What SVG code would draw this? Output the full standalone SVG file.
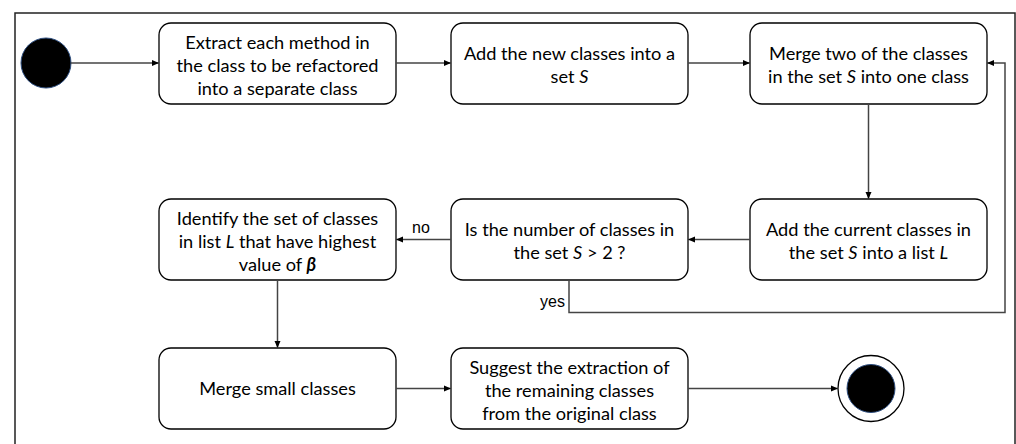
<svg xmlns="http://www.w3.org/2000/svg" width="1016" height="444" viewBox="0 0 1016 444">
<style>
.box{fill:#fff;stroke:#000;stroke-width:1.3}
.t{font-family:Lato,"Open Sans",sans-serif;font-size:18.2px;fill:#000;text-anchor:middle}
.lbl{font-family:"Liberation Sans",Arial,sans-serif;font-size:16px;fill:#000}
.c{fill:none;stroke:#444;stroke-width:1.5}
</style>
<defs>
<marker id="ah" markerWidth="8" markerHeight="8" refX="7" refY="4" orient="auto" markerUnits="userSpaceOnUse">
<path d="M0,1 L7,4 L0,7 Z" fill="#000"/>
</marker>
</defs>
<rect x="15" y="13" width="1000" height="520" fill="#fff" stroke="#222" stroke-width="1.5"/>
<g id="start"><circle cx="46" cy="63" r="25" fill="#000" stroke="#2f4f80" stroke-width="1"/></g>
<g id="n1"><rect class="box" x="159" y="23" width="237" height="81" rx="12"/>
<text class="t" x="277.5" y="49">Extract each method in</text>
<text class="t" x="277.5" y="72">the class to be refactored</text>
<text class="t" x="277.5" y="95">into a separate class</text></g>
<g id="n2"><rect class="box" x="451" y="23" width="237" height="81" rx="12"/>
<text class="t" x="569.5" y="60">Add the new classes into a</text>
<text class="t" x="569.5" y="83">set <tspan font-style="italic">S</tspan></text></g>
<g id="n3"><rect class="box" x="750" y="23" width="237" height="81" rx="12"/>
<text class="t" x="868.5" y="60">Merge two of the classes</text>
<text class="t" x="868.5" y="83">in the set <tspan font-style="italic">S</tspan> into one class</text></g>
<g id="n4"><rect class="box" x="750" y="199" width="237" height="81" rx="12"/>
<text class="t" x="868.5" y="236">Add the current classes in</text>
<text class="t" x="868.5" y="259">the set <tspan font-style="italic">S</tspan> into a list <tspan font-style="italic">L</tspan></text></g>
<g id="n5"><rect class="box" x="451" y="199" width="237" height="81" rx="12"/>
<text class="t" x="569.5" y="236">Is the number of classes in</text>
<text class="t" x="569.5" y="259">the set <tspan font-style="italic">S</tspan> &gt; 2 ?</text></g>
<g id="n6"><rect class="box" x="159" y="199" width="237" height="81" rx="12"/>
<text class="t" x="277.5" y="225">Identify the set of classes</text>
<text class="t" x="277.5" y="248">in list <tspan font-style="italic">L</tspan> that have highest</text>
<text class="t" x="277.5" y="271">value of <tspan font-style="italic" font-weight="bold">β</tspan></text></g>
<g id="n7"><rect class="box" x="159" y="348" width="237" height="81" rx="12"/>
<text class="t" x="277.5" y="395">Merge small classes</text></g>
<g id="n8"><rect class="box" x="451" y="348" width="237" height="81" rx="12"/>
<text class="t" x="569.5" y="374">Suggest the extraction of</text>
<text class="t" x="569.5" y="397">the remaining classes</text>
<text class="t" x="569.5" y="420">from the original class</text></g>
<g id="end"><circle cx="871" cy="388.5" r="33" fill="#fff" stroke="#000" stroke-width="1.3"/>
<circle cx="871" cy="388.5" r="24" fill="#000" stroke="#2f4f80" stroke-width="1"/></g>
<g id="connectors">
<path class="c" d="M71,63 H159" marker-end="url(#ah)"/>
<path class="c" d="M396,63 H451" marker-end="url(#ah)"/>
<path class="c" d="M688,63 H750" marker-end="url(#ah)"/>
<path class="c" d="M868.5,104 V199" marker-end="url(#ah)"/>
<path class="c" d="M750,239.5 H688" marker-end="url(#ah)"/>
<path class="c" d="M451,239.5 H396" marker-end="url(#ah)"/>
<path class="c" d="M569,280 V312.5 H1005 V63 H987" marker-end="url(#ah)"/>
<path class="c" d="M277.5,280 V348" marker-end="url(#ah)"/>
<path class="c" d="M396,388.5 H451" marker-end="url(#ah)"/>
<path class="c" d="M688,388.5 H838" marker-end="url(#ah)"/>
<text class="lbl" x="412" y="233">no</text>
<text class="lbl" x="540" y="307">yes</text>
</g>
</svg>
